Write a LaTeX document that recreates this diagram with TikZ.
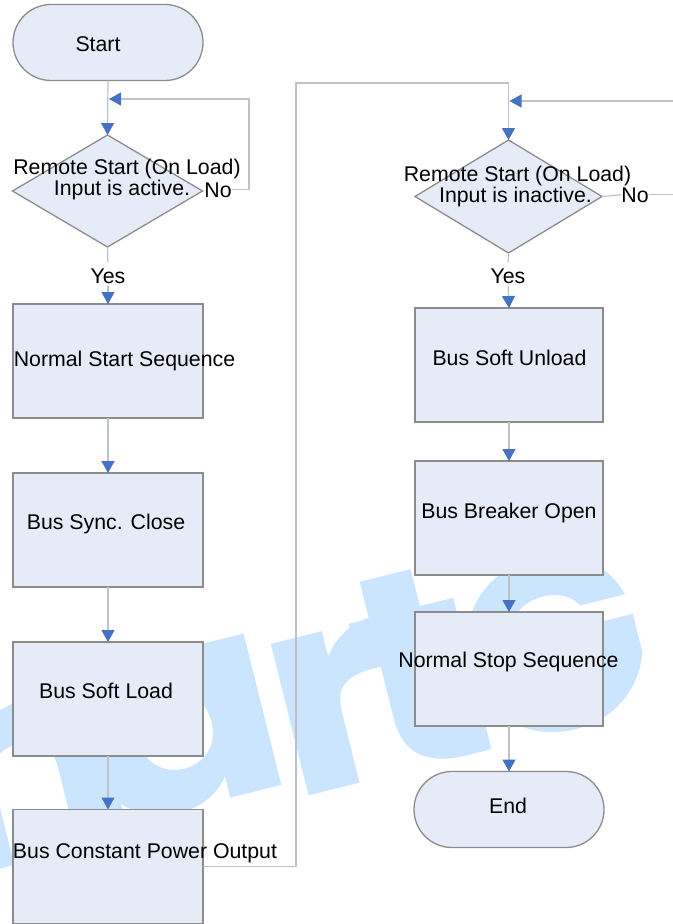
\documentclass[tikz,border=0pt]{standalone}
\usepackage{fontspec}
\setmainfont{Liberation Sans}
\newfontfamily\wmfont{Poppins}
\usetikzlibrary{arrows.meta,shapes.geometric,shapes.misc}
\definecolor{boxfill}{HTML}{E6ECF7}
\definecolor{boxline}{HTML}{8C8C8C}
\definecolor{conn}{HTML}{BDC1C8}
\definecolor{tipblue}{HTML}{4472C4}
\definecolor{wmblue}{HTML}{CCE5FF}
\tikzset{
  every node/.style={inner sep=0pt, outer sep=0pt},
  proc/.style={draw=boxline, fill=boxfill, line width=1.4bp, rectangle, minimum width=190bp, minimum height=114bp},
  term/.style={draw=boxline, fill=boxfill, line width=1.3bp, rounded rectangle, minimum width=190bp, minimum height=76bp},
  decision/.style={draw=boxline, fill=boxfill, line width=1.3bp, diamond, aspect=1.7, minimum width=190bp, minimum height=112bp},
  lbl/.style={font=\fontsize{21.3bp}{22bp}\selectfont, anchor=base, text=black},
  wm/.style={font=\wmfont\bfseries\fontsize{280bp}{280bp}\selectfont, text=wmblue, rotate=14, xscale=1.1, anchor=center},
  conline/.style={draw=conn, line width=1.2bp},
  arr/.style={conline, -{Triangle[width=13bp,length=12bp,color=tipblue]}}
}
\begin{document}
\begin{tikzpicture}[x=1bp,y=-1bp]
\useasboundingbox (0,0) rectangle (673,924);
\clip (0,0) rectangle (673,924);
\fill[white] (0,0) rectangle (673,924);
% watermark
\node[wm] (wm1) at (-30,795) {m};
\node[wm] (wm2) at (180,730) {a};
\node[wm] (wm3) at (335,708) {r};
\node[wm] (wm4) at (418,668) {t};
\node[wm, font=\wmfont\bfseries\fontsize{245bp}{245bp}\selectfont, xscale=1/1.1] (wm5) at (553,645) {G};
\node[wm] (wm6) at (770,598) {e};
% shapes
\node[term] (start) at (108,42.5) {};
\node[decision] (d1) at (107.5,191) {};
\node[proc] (b1) at (108,361) {};
\node[proc] (b2) at (108,530) {};
\node[proc] (b3) at (108,699) {};
\node[proc] (b4) at (108,866.5) {};
\node[decision, minimum width=187bp, minimum height=113bp] (d2) at (508.5,196.5) {};
\node[proc, minimum width=188bp] (r1) at (509,365) {};
\node[proc, minimum width=188bp] (r2) at (509,518) {};
\node[proc, minimum width=188bp] (r3) at (509,669) {};
\node[term] (end) at (509,809.5) {};
% labels
\node[lbl] (tstart) at (98,51) {Start};
\node[lbl] (d1a) at (127,174) {Remote Start (On Load)};
\node[lbl] (d1b) at (122,195) {Input is active.};
\node[lbl] (no1) at (218,197) {No};
\node[lbl] (yes1) at (108,283) {Yes};
\node[lbl] (tb1) at (124.5,366.5) {Normal Start Sequence};
\node[lbl] (tb2) at (106,529) {Bus Sync. Close};
\node[lbl] (tb3) at (106,698) {Bus Soft Load};
\node[lbl] (tb4) at (145,858) {Bus Constant Power Output};
\node[lbl] (d2a) at (517.5,181) {Remote Start (On Load)};
\node[lbl] (d2b) at (515.5,202) {Input is inactive.};
\node[lbl] (no2) at (635,202) {No};
\node[lbl] (yes2) at (508,283) {Yes};
\node[lbl] (tr1) at (509.5,365) {Bus Soft Unload};
\node[lbl] (tr2) at (509,518) {Bus Breaker Open};
\node[lbl] (tr3) at (508.5,667) {Normal Stop Sequence};
\node[lbl] (tend) at (508,813) {End};
% coordinates
\coordinate (l1b) at (249,99);
\coordinate (l1c) at (109,99);
\coordinate (c1) at (296,83);
\coordinate (r0) at (690,101);
% connectors left
\draw[arr] (start.south) -- (d1.north);
\draw[arr] (no1.east) -| (l1b) -- (l1c);
\draw[conline, shorten >=6bp] (d1.south) -- (yes1.north);
\draw[arr, shorten <=3bp] (yes1.south) -- (b1.north);
\draw[arr] (b1.south) -- (b2.north);
\draw[arr] (b2.south) -- (b3.north);
\draw[arr] (b3.south) -- (b4.north);
\draw[arr] (b4.east) -| (c1) -| (d2.north);
% connectors right
\draw[arr, shorten >=1bp] (r0) -- (d2.north |- r0);
\draw[conline] (d2.east) -- (no2.west);
\draw[conline] (no2.east) -- (no2.east -| r0);
\draw[conline, shorten >=6bp] (d2.south) -- (yes2.north);
\draw[arr, shorten <=3bp] (yes2.south) -- (r1.north);
\draw[arr] (r1.south) -- (r2.north);
\draw[arr] (r2.south) -- (r3.north);
\draw[arr] (r3.south) -- (end.north);
\end{tikzpicture}
\end{document}
